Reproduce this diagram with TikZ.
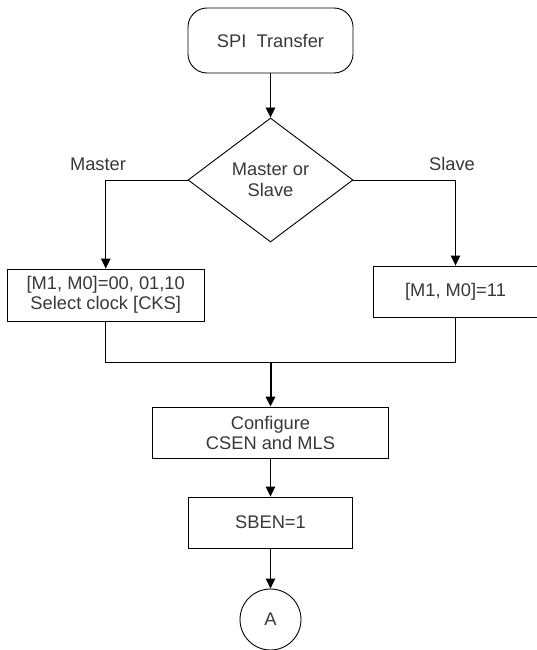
\documentclass[tikz,border=0pt]{standalone}
\usepackage{fontspec}
\setmainfont{Liberation Sans}
\usetikzlibrary{shapes.geometric,arrows.meta}
\definecolor{txtgray}{HTML}{383838}
\begin{document}
\begin{tikzpicture}[x=1pt,y=1pt,
  every node/.style={font=\fontsize{18.3}{20}\selectfont, text=txtgray},
  box/.style={draw=black, line width=0.9pt, rectangle, inner sep=0pt, align=center},
  conn/.style={line width=0.9pt, draw=black},
  arr/.style={conn, -{Triangle[length=10pt,width=9.5pt]}},
]
\useasboundingbox (0,0) rectangle (536,-650);

\node[box, rounded corners=19pt, minimum width=165pt, minimum height=65pt] (term) at (270.5,-40.5) {SPI\ \ Transfer};
\node[box, diamond, aspect=1.33, minimum width=165pt, minimum height=124pt, font=\fontsize{18.3}{21}\selectfont] (dec) at (270.5,-180) {Master or\\Slave};
\node[box, minimum width=196.5pt, minimum height=52pt] (lbox) at (105.75,-295) {[M1, M0]=00, 01,10\\Select clock [CKS]};
\node[box, minimum width=165pt, minimum height=51pt] (rbox) at (455.5,-291.5) {[M1, M0]=11};
\node[box, minimum width=236pt, minimum height=51pt] (cfg) at (270.5,-432.5) {Configure\\CSEN and MLS};
\node[box, minimum width=164pt, minimum height=51pt] (sben) at (270.5,-522.5) {SBEN=1};
\node[box, circle, minimum size=61pt] (A) at (270.5,-619.5) {A};

\node (lm) at (98,-164) {Master};
\node (ls) at (452,-164) {Slave};

\coordinate (m) at (270.5,-362);

\draw[arr] (term.south) -- (dec.north);
\draw[arr] (dec.west) -| (lbox.north);
\draw[arr] (dec.east) -| (rbox.north);
\draw[conn] (lbox.south) -- (lbox.south |- m) -- (rbox.south |- m) -- (rbox.south);
\draw[arr, line width=2pt] (m) -- (cfg.north);
\draw[arr] (cfg.south) -- (sben.north);
\draw[arr] (sben.south) -- (A.north);
\end{tikzpicture}
\end{document}
